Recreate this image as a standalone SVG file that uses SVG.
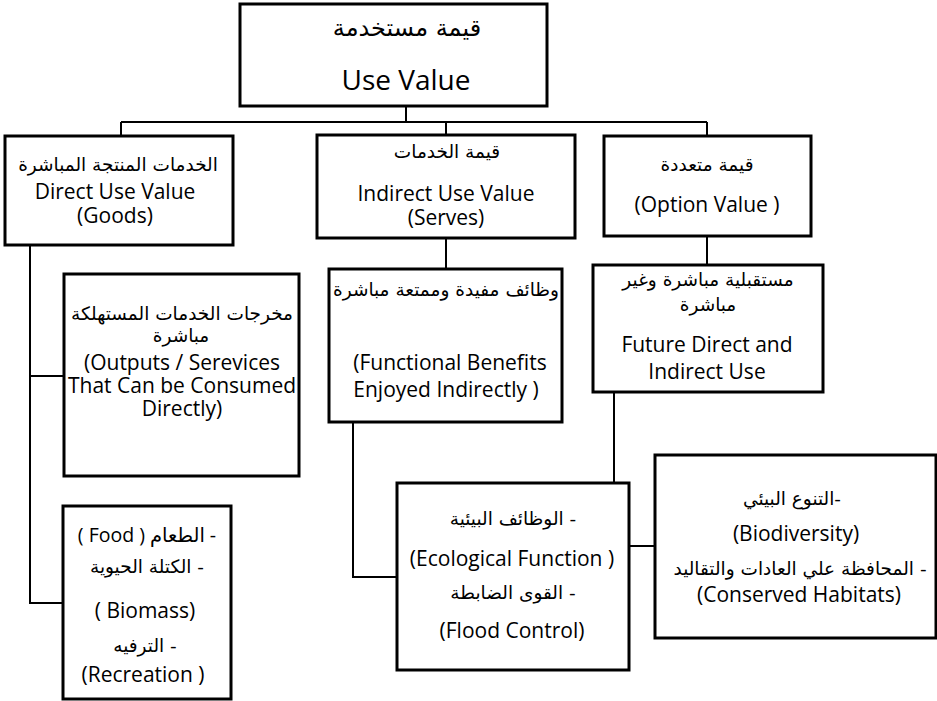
<svg xmlns="http://www.w3.org/2000/svg" width="937" height="701" viewBox="0 0 937 701">
  <style>
    .box { fill: #fff; stroke: #000; stroke-width: 3; }
    .wire { fill: none; stroke: #000; stroke-width: 2; }
    text { fill: #000; text-anchor: middle; }
    .en { font-family: "Open Sans", "DejaVu Sans", sans-serif; font-size: 21px; }
    .en-lg { font-family: "Open Sans", "DejaVu Sans", sans-serif; font-size: 28px; }
    .ar { font-family: "DejaVu Sans", sans-serif; font-size: 18.5px; direction: rtl; }
    .ar-lg { font-family: "DejaVu Sans", sans-serif; font-size: 24px; direction: rtl; }
    .mix { font-family: "Open Sans", "DejaVu Sans", sans-serif; font-size: 19.5px; direction: rtl; }
  </style>

  <rect width="937" height="701" fill="#fff"/>

  <!-- connectors -->
  <g id="connectors" class="wire">
    <path d="M406 106 V122 M121 122 H707 M121 122 V136 M446 122 V135 M707 122 V136"/>
    <path d="M707 236 V265"/>
    <path d="M446 238 V269"/>
    <path d="M353 422 V577 H397"/>
    <path d="M614 392 V483"/>
    <path d="M629 546 H655"/>
    <path d="M30 245 V603 H63 M30 376 H64"/>
  </g>

  <!-- root -->
  <g id="use-value">
    <rect class="box" x="240" y="4" width="307" height="102"/>
    <text class="ar-lg" x="407" y="36">قيمة مستخدمة</text>
    <text class="en-lg" x="406" y="90">Use Value</text>
  </g>

  <!-- first level -->
  <g id="direct-use">
    <rect class="box" x="5" y="136" width="228" height="109"/>
    <text class="ar" x="118" y="171">الخدمات المنتجة المباشرة</text>
    <text class="en" x="115" y="199">Direct Use Value</text>
    <text class="en" x="115" y="223">(Goods)</text>
  </g>

  <g id="indirect-use">
    <rect class="box" x="317" y="135" width="258" height="103"/>
    <text class="ar" x="447" y="158">قيمة الخدمات</text>
    <text class="en" x="446" y="201">Indirect Use Value</text>
    <text class="en" x="446" y="225">(Serves)</text>
  </g>

  <g id="option-value">
    <rect class="box" x="604" y="136" width="207" height="100"/>
    <text class="ar" x="707" y="171">قيمة متعددة</text>
    <text class="en" x="707" y="212">(Option Value )</text>
  </g>

  <!-- second level -->
  <g id="outputs">
    <rect class="box" x="64" y="274" width="235" height="202"/>
    <text class="ar" x="182" y="320">مخرجات الخدمات المستهلكة</text>
    <text class="ar" x="181" y="342">مباشرة</text>
    <text class="en" x="182" y="370">(Outputs / Serevices</text>
    <text class="en" x="182" y="393">That Can be Consumed</text>
    <text class="en" x="182" y="416">Directly)</text>
  </g>

  <g id="functional-benefits">
    <rect class="box" x="329" y="269" width="233" height="153"/>
    <text class="ar" x="446" y="296">وظائف مفيدة وممتعة مباشرة</text>
    <text class="en" x="450" y="370">(Functional Benefits</text>
    <text class="en" x="446" y="397">Enjoyed Indirectly )</text>
  </g>

  <g id="future-use">
    <rect class="box" x="593" y="265" width="230" height="127"/>
    <text class="ar" x="708" y="286">مستقبلية مباشرة وغير</text>
    <text class="ar" x="708" y="311">مباشرة</text>
    <text class="en" x="707" y="352">Future Direct and</text>
    <text class="en" x="707" y="379">Indirect Use</text>
  </g>

  <!-- third level -->
  <g id="goods-list">
    <rect class="box" x="63" y="506" width="168" height="193"/>
    <text class="mix" x="147" y="542">- الطعام ( Food )</text>
    <text class="ar" x="147" y="573">- الكتلة الحيوية</text>
    <text class="en" x="145" y="618">( Biomass)</text>
    <text class="ar" x="145" y="652">- الترفيه</text>
    <text class="en" x="143" y="682">(Recreation )</text>
  </g>

  <g id="ecological-function">
    <rect class="box" x="397" y="483" width="232" height="187"/>
    <text class="ar" x="513" y="525">- الوظائف البيئية</text>
    <text class="en" x="512" y="566">(Ecological Function )</text>
    <text class="ar" x="513" y="599">- القوى الضابطة</text>
    <text class="en" x="512" y="638">(Flood Control)</text>
  </g>

  <g id="biodiversity">
    <rect class="box" x="655" y="455" width="281" height="183"/>
    <text class="ar" x="792" y="505">-التنوع البيئي</text>
    <text class="en" x="796" y="541">(Biodiversity)</text>
    <text class="ar" x="800" y="575">- المحافظة علي العادات والتقاليد</text>
    <text class="en" x="799" y="602">(Conserved Habitats)</text>
  </g>
</svg>
